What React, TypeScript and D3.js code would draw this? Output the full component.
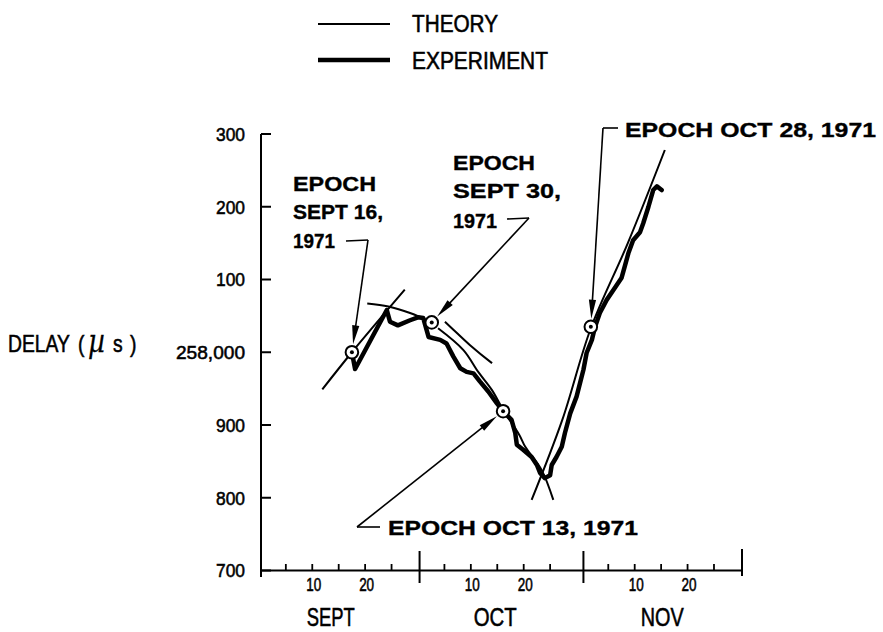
import React from "react";
import * as d3 from "d3";

// ---- axis data ----
const yTickValues = [258300, 258200, 258100, 258000, 257900, 257800, 257700];
const yTickLabels = ["300", "200", "100", "258,000", "900", "800", "700"];
const monthNames = ["SEPT", "OCT", "NOV"];
const monthStartDays = [0, 30, 61, 91]; // days since Sep 1, 1971
const monthLabelDays = [13.2, 44.3, 75.9];
const minorTickDays = [5, 10, 15, 20, 25];
const labeledDays = [10, 20];

// ---- experiment (days since Sep 1, delay in µs) ----
const experimentDays = [17.2, 17.8, 23.8, 24.4, 25.9, 28.2, 29.7, 30.7, 31.7, 33.9, 35.1, 36.4, 37.7, 38.9, 40.2, 41.4, 43.0, 44.6, 45.8, 47.4, 48.1, 48.4, 49.6, 51.2, 52.2, 52.8, 53.7, 54.7, 55.0, 55.9, 56.9, 57.5, 58.5, 59.7, 61.0, 61.6, 62.6, 63.2, 64.1, 65.4, 66.7, 68.2, 68.9, 69.5, 70.4, 71.7, 72.3, 73.3, 74.2, 74.9, 75.8];
const experimentDelay = [258000, 257977, 258058, 258042, 258037, 258044, 258048, 258047, 258021, 258017, 258012, 257994, 257978, 257973, 257971, 257960, 257946, 257930, 257919, 257907, 257889, 257873, 257866, 257856, 257845, 257834, 257827, 257831, 257845, 257856, 257870, 257889, 257916, 257939, 257976, 257999, 258017, 258035, 258054, 258072, 258086, 258102, 258120, 258136, 258154, 258165, 258177, 258200, 258223, 258228, 258223];

// ---- theory curves ----
const theorySep16Days = [11.6, 17.2, 27.2];
const theorySep16Delay = [257949, 258000, 258086];
const theorySep30Days = [20.1, 24.1, 28.2, 32.3];
const theorySep30Delay = [258067, 258063, 258054, 258041];
const theorySep30bDays = [34.8, 36.4, 39.5, 43.7];
const theorySep30bDelay = [258042, 258031, 258010, 257985];
const theoryOct13Days = [33.5, 38.3, 41.1, 43.7, 45.8, 48.9, 50.0, 53.1, 55.3];
const theoryOct13Delay = [258033, 258003, 257973, 257948, 257921, 257886, 257870, 257838, 257797];
const theoryOct28Days = [51.2, 57.0, 62.4, 69.4, 76.4];
const theoryOct28Delay = [257797, 257907, 258033, 258150, 258278];

// ---- epochs ----
const epochLabels = ["SEPT 16", "SEPT 30", "OCT 13", "OCT 28"];
const epochDays = [17.2, 32.3, 45.8, 62.4];
const epochDelay = [258000, 258041, 257919, 258035];

const W = 883;
const H = 632;

const x = d3.scaleLinear().domain([0, 91]).range([261, 742]);
const y = d3.scaleLinear().domain([257700, 258300]).range([570.5, 134]);

const pts = (ds: number[], vs: number[]) => ds.map((d, i) => [d, vs[i]] as [number, number]);
const lineGen = d3
  .line<[number, number]>()
  .x((d) => x(d[0]))
  .y((d) => y(d[1]));
const smoothGen = d3
  .line<[number, number]>()
  .x((d) => x(d[0]))
  .y((d) => y(d[1]))
  .curve(d3.curveCatmullRom.alpha(0.5));

const SANS = "'Liberation Sans', Arial, Helvetica, sans-serif";

function Arrow({ from, to }: { from: [number, number]; to: [number, number] }) {
  const dx = to[0] - from[0];
  const dy = to[1] - from[1];
  const len = Math.hypot(dx, dy);
  const ux = dx / len;
  const uy = dy / len;
  const hl = 19;
  const hw = 3.6;
  const bx = to[0] - ux * hl;
  const by = to[1] - uy * hl;
  const p = `${to[0]},${to[1]} ${bx - uy * hw},${by + ux * hw} ${bx + uy * hw},${by - ux * hw}`;
  return (
    <g>
      <line x1={from[0]} y1={from[1]} x2={bx + ux * 2} y2={by + uy * 2} stroke="#000" strokeWidth={1.6} />
      <polygon points={p} fill="#000" />
    </g>
  );
}

function tipFor(i: number, from: [number, number]): [number, number] {
  const cx = x(epochDays[i]);
  const cy = y(epochDelay[i]);
  const dx = from[0] - cx;
  const dy = from[1] - cy;
  const l = Math.hypot(dx, dy);
  return [cx + (dx / l) * 8, cy + (dy / l) * 8];
}

function BText({ x: tx, y: ty, w, children, size = 20.5 }: any) {
  return (
    <text x={tx} y={ty} fontFamily={SANS} fontWeight="bold" fontSize={size} textLength={w} lengthAdjust="spacingAndGlyphs" stroke="#000" strokeWidth={0.35}>
      {children}
    </text>
  );
}

function NText({ x: tx, y: ty, w, size, anchor = "start", children }: any) {
  return (
    <text x={tx} y={ty} fontFamily={SANS} fontSize={size} textAnchor={anchor} textLength={w} lengthAdjust="spacingAndGlyphs" stroke="#000" strokeWidth={0.55}>
      {children}
    </text>
  );
}

export default function App() {
  const expPts = pts(experimentDays, experimentDelay);
  const theories = [
    pts(theorySep16Days, theorySep16Delay),
    pts(theorySep30Days, theorySep30Delay),
    pts(theorySep30bDays, theorySep30bDelay),
    pts(theoryOct13Days, theoryOct13Delay),
    pts(theoryOct28Days, theoryOct28Delay),
  ];
  const axisY = y(257700);

  // leader elbows (annotation layout)
  const e1: [number, number] = [368, 240];
  const e2: [number, number] = [529, 218];
  const e3: [number, number] = [603, 128];
  const e4: [number, number] = [357, 527];

  // local (pre-scale) x positions for the axis title pieces
  const sx = 0.84;
  const loc = (px: number) => (px - 8) / sx;

  return (
    <svg width={W} height={H} viewBox={`0 0 ${W} ${H}`} style={{ position: "absolute", left: 0, top: 0, background: "#fff" }}>
      <rect width={W} height={H} fill="#fff" />

      {/* legend */}
      <line x1={318} y1={24} x2={390} y2={24} stroke="#000" strokeWidth={2} />
      <line x1={318} y1={60} x2={390} y2={60} stroke="#000" strokeWidth={4.5} />
      <NText x={412} y={32} w={86} size={23}>THEORY</NText>
      <NText x={412} y={68.5} w={136} size={23}>EXPERIMENT</NText>

      {/* y axis */}
      <line x1={261} y1={y(258300)} x2={261} y2={577} stroke="#000" strokeWidth={2} />
      {yTickValues.map((v, i) => (
        <g key={v}>
          <line x1={261} x2={271} y1={y(v)} y2={y(v)} stroke="#000" strokeWidth={2} />
          <NText x={245} y={y(v) + 6.8} anchor="end" size={19} w={yTickLabels[i].length > 3 ? 69 : 29}>
            {yTickLabels[i]}
          </NText>
        </g>
      ))}
      <text transform={`translate(8,352) scale(${sx},1)`} fontFamily={SANS} fontSize={23} stroke="#000" strokeWidth={0.55}>
        <tspan x={0}>DELAY</tspan>
        <tspan x={loc(78)}>(</tspan>
        <tspan x={loc(88)} fontStyle="italic" fontFamily="'DejaVu Serif', 'Liberation Serif', serif" fontSize={31} strokeWidth={0.3}>µ</tspan>
        <tspan x={loc(113)}>s</tspan>
        <tspan x={loc(130)}>)</tspan>
      </text>

      {/* x axis */}
      <line x1={261} y1={axisY} x2={742} y2={axisY} stroke="#000" strokeWidth={2} />
      {monthStartDays.slice(1).map((m, i) => (
        <line key={m} x1={x(m)} x2={x(m)} y1={i === 2 ? 549 : 551} y2={i === 2 ? 576 : 583} stroke="#000" strokeWidth={2} />
      ))}
      {monthStartDays.slice(0, 3).map((m) =>
        minorTickDays.map((d) => (
          <line key={`${m}-${d}`} x1={x(m + d - 0.3)} x2={x(m + d - 0.3)} y1={axisY - 6.5} y2={axisY} stroke="#000" strokeWidth={1.8} />
        ))
      )}
      {monthStartDays.slice(0, 3).map((m) =>
        labeledDays.map((d) => (
          <NText key={`l${m}-${d}`} x={x(m + d - 0.3) + 1.5} y={591} anchor="middle" size={18} w={15}>
            {d}
          </NText>
        ))
      )}
      {monthNames.map((n, i) => (
        <NText key={n} x={x(monthLabelDays[i])} y={626} anchor="middle" size={26} w={i === 0 ? 48 : 43}>
          {n}
        </NText>
      ))}

      {/* theory */}
      {theories.map((t, i) => (
        <path key={i} d={smoothGen(t) || ""} fill="none" stroke="#000" strokeWidth={2} />
      ))}

      {/* experiment */}
      <path d={lineGen(expPts) || ""} fill="none" stroke="#000" strokeWidth={4.5} strokeLinejoin="round" strokeLinecap="round" />

      {/* epoch markers */}
      {epochDays.map((d, i) => (
        <g key={epochLabels[i]}>
          <circle cx={x(d)} cy={y(epochDelay[i])} r={6.3} fill="#fff" stroke="#000" strokeWidth={2} />
          <circle cx={x(d)} cy={y(epochDelay[i])} r={2} fill="#000" />
        </g>
      ))}

      {/* annotations */}
      <BText x={293} y={191} w={83}>EPOCH</BText>
      <BText x={293} y={219} w={90}>SEPT 16,</BText>
      <BText x={293} y={248} w={42}>1971</BText>
      <line x1={346} y1={241} x2={e1[0]} y2={e1[1]} stroke="#000" strokeWidth={1.6} />
      <Arrow from={e1} to={tipFor(0, e1)} />

      <BText x={453} y={170} w={82}>EPOCH</BText>
      <BText x={453} y={198} w={108}>SEPT 30,</BText>
      <BText x={453} y={228} w={44}>1971</BText>
      <line x1={507} y1={219} x2={e2[0]} y2={e2[1]} stroke="#000" strokeWidth={1.6} />
      <Arrow from={e2} to={tipFor(1, e2)} />

      <BText x={625} y={137} w={251}>EPOCH OCT 28, 1971</BText>
      <line x1={618} y1={128} x2={e3[0]} y2={e3[1]} stroke="#000" strokeWidth={1.6} />
      <Arrow from={e3} to={tipFor(3, e3)} />

      <BText x={388} y={535} w={250}>EPOCH OCT 13, 1971</BText>
      <line x1={380} y1={527} x2={e4[0]} y2={e4[1]} stroke="#000" strokeWidth={1.6} />
      <Arrow from={e4} to={tipFor(2, e4)} />
    </svg>
  );
}
